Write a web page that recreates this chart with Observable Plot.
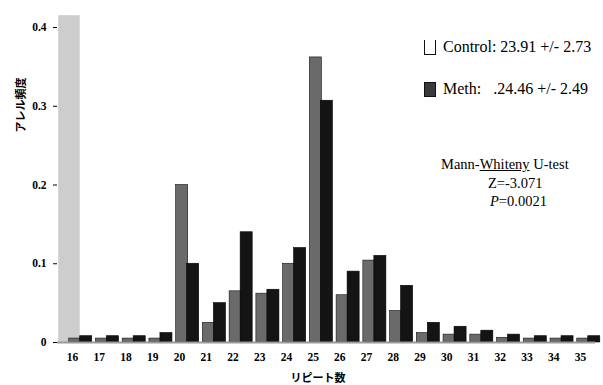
<!DOCTYPE html>
<html>
<head>
<meta charset="utf-8">
<script src="https://cdn.jsdelivr.net/npm/d3@7"></script>
<script src="https://cdn.jsdelivr.net/npm/@observablehq/plot@0.6"></script>
<style>
  body { margin: 0; background: #fff; }
  #wrap { position: relative; width: 603px; height: 385px; font-family: "Liberation Serif", serif; color: #000; }
  #wrap svg { position: absolute; left: 0; top: 0; }
  .ov { position: absolute; white-space: nowrap; }
  .jp { font-family: "Noto Sans CJK JP", sans-serif; font-weight: 700; font-size: 11px; }
  .leg { font-size: 16px; display: flex; align-items: center; }
  .sw { display: inline-block; width: 12px; height: 15px; border: 1.5px solid #111; margin-right: 7px; box-sizing: border-box; }
  .ann { font-size: 14.5px; }
</style>
</head>
<body>
<div id="wrap"></div>
<script>
// ---- data ----
const repeats = ["16","17","18","19","20","21","22","23","24","25","26","27","28","29","30","31","32","33","34","35"];
const controlFreq = [0.005,0.005,0.005,0.005,0.20,0.025,0.065,0.062,0.10,0.362,0.06,0.104,0.04,0.012,0.01,0.01,0.006,0.005,0.005,0.005];
const methFreq    = [0.008,0.008,0.008,0.012,0.10,0.05,0.14,0.067,0.12,0.307,0.09,0.11,0.072,0.025,0.02,0.015,0.01,0.008,0.008,0.008];
const yTicks = [0, 0.1, 0.2, 0.3, 0.4];
const seriesNames = ["Control", "Meth"];
const legendTexts = ["Control: 23.91 +/- 2.73", "Meth:   .24.46 +/- 2.49"];
const wallHeight = [0.415];

const control = repeats.map((r, i) => ({rep: r, value: controlFreq[i]}));
const meth = repeats.map((r, i) => ({rep: r, value: methFreq[i]}));

const W = 603, H = 385;
const chart = Plot.plot({
  width: W, height: H,
  marginLeft: 57, marginRight: 8, marginTop: 27, marginBottom: 43,
  style: { fontFamily: "Liberation Serif, serif", fontSize: "11.5px", fontWeight: "bold", color: "#000", background: "transparent" },
  x: { domain: repeats, padding: 0.12, round: false, label: null, tickSize: 0, tickPadding: 10 },
  y: { domain: [0, 0.4], ticks: yTicks, tickFormat: d => d === 0 ? "0" : d3.format(".1f")(d), label: null, tickSize: 4, tickPadding: 7 },
  marks: [
    Plot.barY(wallHeight, { x: () => repeats[0], y: d => d, fill: "#cdcdcd", insetRight: 4, insetLeft: -2 }),
    Plot.barY(control, { x: "rep", y: "value", fill: "#6a6a6a", stroke: "#111", strokeWidth: 0.6, insetRight: 11.5, dx: 8.5 }),
    Plot.barY(meth, { x: "rep", y: "value", fill: "#141414", stroke: "#000", strokeWidth: 0.6, insetLeft: 11.5, dx: 8 }),
    Plot.ruleY([0], { stroke: "#9a9a9a", strokeWidth: 2 })
  ]
});
const wrap = document.getElementById("wrap");
wrap.appendChild(chart);

// y-axis label (rotated)
const yl = document.createElement("div");
yl.className = "ov jp";
yl.textContent = "アレル頻度";
yl.style.left = "20px"; yl.style.top = "105px";
yl.style.transform = "translate(-50%,-50%) rotate(-90deg)";
wrap.appendChild(yl);

// x-axis label
const xl = document.createElement("div");
xl.className = "ov jp";
xl.textContent = "リピート数";
xl.style.left = "318px"; xl.style.top = "377px";
xl.style.transform = "translate(-50%,-50%)";
wrap.appendChild(xl);

// legend
const legTops = [47, 89];
seriesNames.forEach((s, i) => {
  const d = document.createElement("div");
  d.className = "ov leg";
  d.style.left = "424px"; d.style.top = legTops[i] + "px";
  d.style.transform = "translateY(-50%)";
  const sw = document.createElement("span");
  sw.className = "sw";
  if (i === 0) { sw.style.background = "#fff"; sw.style.borderTop = "none"; }
  else { sw.style.background = "#3a3a3a"; }
  d.appendChild(sw);
  const t = document.createElement("span");
  t.textContent = legendTexts[i];
  t.style.whiteSpace = "pre";
  d.appendChild(t);
  wrap.appendChild(d);
});

// annotation
const ann = document.createElement("div");
ann.className = "ov ann";
ann.style.left = "441px"; ann.style.top = "155px";
ann.style.lineHeight = "18.5px";
ann.innerHTML = 'Mann-<u>Whiteny</u> U-test<br><span style="padding-left:47px">Z=-3.071</span><br><span style="padding-left:49px"><i>P</i>=0.0021</span>';
wrap.appendChild(ann);
</script>
</body>
</html>
